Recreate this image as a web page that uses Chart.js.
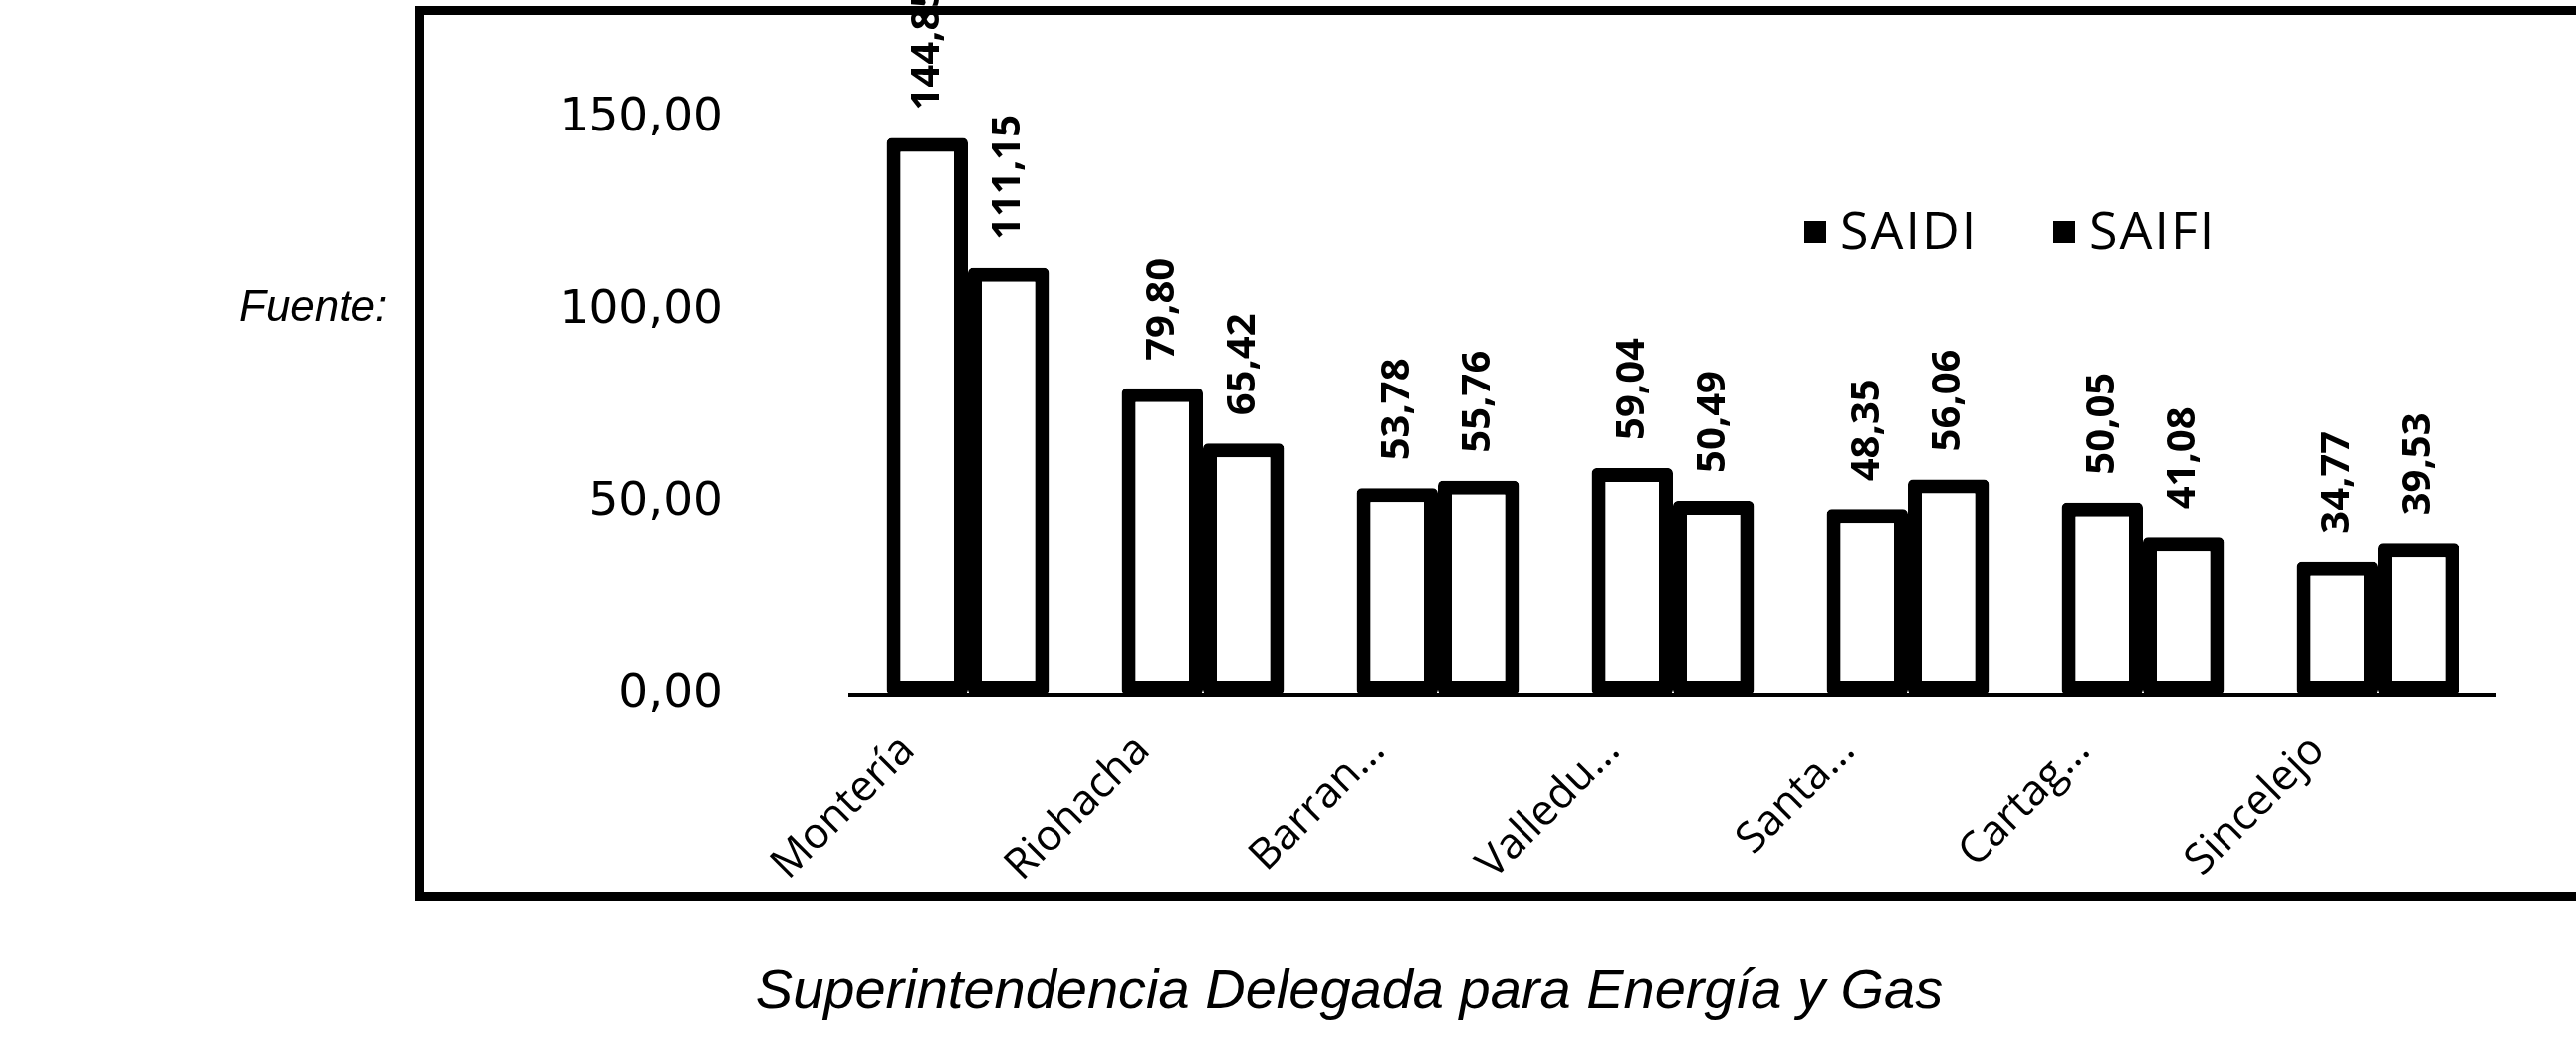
<!DOCTYPE html>
<html>
<head>
<meta charset="utf-8">
<script src="https://cdn.jsdelivr.net/npm/chart.js@4.4.1/dist/chart.umd.min.js"></script>
<style>
  html, body { margin: 0; padding: 0; background: #fff; overflow: hidden; }
  body { width: 2587px; height: 1042px; position: relative; }
  #chart { position: absolute; left: 0; top: 0; }
  .frame { position: absolute; left: 417px; top: 6px; width: 2300px; height: 880px;
           border: 9px solid #000; border-right: none; pointer-events: none; }
  .fuente { position: absolute; left: 240px; top: 282px; font: italic 44px "Liberation Sans", Arial, sans-serif; color: #000; }
  .caption { position: absolute; left: 0; width: 2710px; top: 960px; text-align: center;
             font: italic 56px "Liberation Sans", Arial, sans-serif; color: #000; }
  .legend { position: absolute; top: 194px; font: 52px "Open Sans", sans-serif; letter-spacing: 2px; color: #000; }
  .legend i { display: inline-block; width: 22px; height: 22px; background: #000; margin-right: 14px; vertical-align: 6px; }
</style>
</head>
<body>
<canvas id="chart" width="2587" height="1042"></canvas>
<div class="frame"></div>
<div class="fuente">Fuente:</div>
<div class="legend" style="left:1812px"><i></i>SAIDI</div>
<div class="legend" style="left:2062px"><i></i>SAIFI</div>
<div class="caption">Superintendencia Delegada para Energía y Gas</div>
<script>
// values
const categories = ["Montería", "Riohacha", "Barran...", "Valledu...", "Santa...", "Cartag...", "Sincelejo"];
const saidi = [144.85, 79.80, 53.78, 59.04, 48.35, 50.05, 34.77];
const saifi = [111.15, 65.42, 55.76, 50.49, 56.06, 41.08, 39.53];
const yTicks = [0, 50, 100, 150];

const fmt = v => v.toFixed(2).replace(".", ",");

// rotated value labels above each bar
const valueLabels = {
  id: "valueLabels",
  afterDatasetsDraw(chart) {
    const ctx = chart.ctx;
    chart.data.datasets.forEach((ds, i) => {
      chart.getDatasetMeta(i).data.forEach((bar, j) => {
        ctx.save();
        ctx.translate(bar.x, bar.y - 28);
        ctx.rotate(-Math.PI / 2);
        ctx.font = "bold 40px 'Open Sans'";
        ctx.fillStyle = "#000";
        ctx.textAlign = "left";
        ctx.textBaseline = "middle";
        ctx.fillText(fmt(ds.data[j]), 0, 0);
        ctx.restore();
      });
    });
  }
};

const barStyle = {
  backgroundColor: "#fff",
  borderColor: "#000",
  borderWidth: 14,
  borderSkipped: false,
  borderRadius: 5,
  categoryPercentage: 0.69,
  barPercentage: 1.0
};

new Chart(document.getElementById("chart"), {
  type: "bar",
  data: {
    labels: categories,
    datasets: [
      Object.assign({ label: "SAIDI", data: saidi }, barStyle),
      Object.assign({ label: "SAIFI", data: saifi }, barStyle)
    ]
  },
  options: {
    responsive: false,
    animation: false,
    devicePixelRatio: 1,
    layout: { padding: { top: 80, right: 81, left: 0, bottom: 0 } },
    plugins: { legend: { display: false }, tooltip: { enabled: false } },
    scales: {
      x: {
        grid: { display: false },
        border: { display: true, color: "#000", width: 4 },
        ticks: {
          autoSkip: false,
          minRotation: 45,
          maxRotation: 45,
          padding: 22,
          labelOffset: -60,
          color: "#000",
          font: { family: "Open Sans", size: 43 }
        },
        afterFit: s => { s.height = 344; }
      },
      y: {
        min: 0,
        max: 160,
        // tick marks are hidden; their length only pushes the labels left
        grid: { display: false, drawTicks: true, tickLength: 125 },
        border: { display: false },
        ticks: {
          padding: 3,
          color: "#000",
          font: { family: "DejaVu Sans", size: 47 },
          callback: v => fmt(v)
        },
        afterBuildTicks: s => { s.ticks = yTicks.map(v => ({ value: v })); },
        afterFit: s => { s.width = 854; }
      }
    }
  },
  plugins: [valueLabels]
});
</script>
</body>
</html>
